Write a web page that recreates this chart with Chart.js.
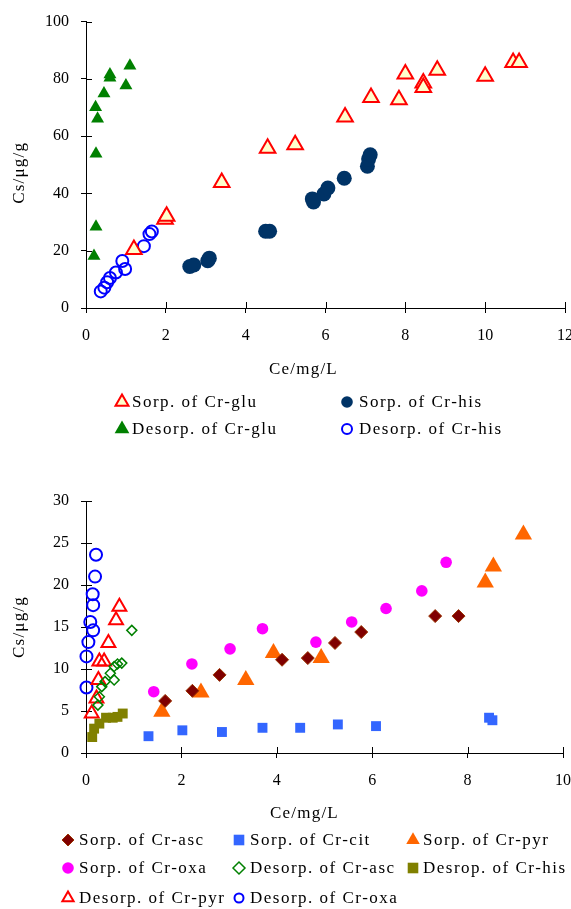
<!DOCTYPE html>
<html>
<head>
<meta charset="utf-8">
<script src="https://cdn.jsdelivr.net/npm/chart.js@4.4.0/dist/chart.umd.min.js"></script>
<style>
  html, body { margin: 0; padding: 0; background: #fff; overflow: hidden; }
  #top { position: absolute; left: 0; top: 0; width: 571px; height: 450px; }
  #bottom { position: absolute; left: 0; top: 460px; width: 571px; height: 449px; }
</style>
</head>
<body>
<div id="top"><canvas id="chart-top"></canvas></div>
<div id="bottom"><canvas id="chart-bottom"></canvas></div>
<script>
// ---- top chart data (Cr-glu / Cr-his) ----
const sorpGluX = [1.2, 1.98, 2.02, 3.4, 4.55, 5.24, 6.49, 7.14, 7.84, 8.0, 8.45, 8.45, 8.8, 10.0, 10.7, 10.85];
const sorpGluY = [20.4, 31.0, 32.0, 43.8, 55.8, 57.0, 66.7, 73.5, 72.7, 81.7, 78.6, 77.0, 83.0, 80.9, 85.7, 85.7];
const sorpHisX = [2.6, 2.7, 3.05, 3.09, 4.5, 4.6, 5.67, 5.7, 5.96, 6.06, 6.47, 7.05, 7.08, 7.12];
const sorpHisY = [14.5, 15.0, 16.5, 17.4, 26.8, 26.8, 38.1, 37.0, 39.8, 41.9, 45.3, 49.5, 52.0, 53.5];
const desGluX = [0.2, 0.25, 0.25, 0.29, 0.24, 0.45, 0.6, 0.6, 1.0, 1.1];
const desGluY = [18.2, 28.4, 53.9, 66.1, 70.1, 74.9, 80.4, 81.5, 77.7, 84.6];
const desHisX = [0.37, 0.46, 0.53, 0.6, 0.75, 0.91, 0.98, 1.45, 1.59, 1.65];
const desHisY = [5.8, 7.1, 9.0, 10.5, 12.4, 16.4, 13.6, 21.6, 25.8, 26.7];

// ---- bottom chart data ----
const sorpAscX = [1.66, 2.23, 2.8, 4.11, 4.65, 5.22, 5.77, 7.32, 7.81];
const sorpAscY = [6.2, 7.4, 9.3, 11.1, 11.3, 13.1, 14.4, 16.3, 16.3];
const sorpCitX = [1.31, 2.02, 2.85, 3.7, 4.49, 5.28, 6.08, 8.45, 8.52];
const sorpCitY = [2.0, 2.7, 2.5, 3.0, 3.0, 3.4, 3.2, 4.2, 3.9];
const sorpPyrX = [1.59, 2.41, 3.35, 3.93, 4.93, 8.37, 8.54, 9.17];
const sorpPyrY = [4.9, 7.2, 8.7, 11.9, 11.3, 20.3, 22.2, 26.0];
const sorpOxaX = [1.42, 2.22, 3.02, 3.7, 4.82, 5.57, 6.29, 7.04, 7.55];
const sorpOxaY = [7.3, 10.6, 12.4, 14.8, 13.2, 15.6, 17.2, 19.3, 22.7];
const desAscX = [0.25, 0.28, 0.33, 0.4, 0.59, 0.51, 0.59, 0.66, 0.75, 0.96];
const desAscY = [5.7, 6.7, 7.9, 8.5, 8.7, 9.5, 10.3, 10.6, 10.7, 14.6];
const desHis2X = [0.13, 0.17, 0.28, 0.42, 0.56, 0.66, 0.77];
const desHis2Y = [1.9, 2.9, 3.5, 4.2, 4.2, 4.3, 4.7];
const desPyrX = [0.12, 0.22, 0.26, 0.28, 0.38, 0.47, 0.63, 0.7];
const desPyrY = [4.7, 6.5, 8.7, 10.9, 10.9, 13.1, 15.8, 17.4];
const desOxaX = [0.21, 0.19, 0.14, 0.15, 0.09, 0.15, 0.05, 0.01, 0.01];
const desOxaY = [23.6, 21.0, 18.9, 17.6, 15.6, 14.6, 13.2, 11.5, 7.8];

// axis ranges
const topXMax = 12, topXStep = 2, topYMax = 100, topYStep = 20;
const botXMax = 10, botXStep = 2, botYMax = 30, botYStep = 5;

const FONT = '"Liberation Serif", "Times New Roman", serif';

function pts(xs, ys) {
    return xs.map((x, i) => ({ x: x, y: ys[i] }));
}

function series(label, xs, ys, style, bg, border, bw, r, legendR) {
    return {
        label: label,
        data: pts(xs, ys),
        pointStyle: style,
        backgroundColor: bg,
        borderColor: border,
        borderWidth: bw,
        pointRadius: r,
        pointHoverRadius: r,
        legendRadius: legendR,
        showLine: false,
        clip: false
    };
}

// scale titles get letter spacing and a small shift
const textTweaks = {
    id: 'textTweaks',
    beforeDraw(chart, args, opts) {
        Object.values(chart.scales).forEach(s => {
            if (s._tweaked) return;
            const orig = s.drawTitle;
            const shift = (opts.shift && opts.shift[s.id]) || [0, 0];
            s.drawTitle = function () {
                const c = this.ctx;
                c.save();
                c.letterSpacing = '1.2px';
                c.translate(shift[0], shift[1]);
                orig.call(this);
                c.restore();
            };
            s._tweaked = true;
        });
    }
};

// tick marks that cross the axis line
const crossTicks = {
    id: 'crossTicks',
    beforeDatasetsDraw(chart) {
        const ctx = chart.ctx;
        const x = chart.scales.x, y = chart.scales.y;
        ctx.save();
        ctx.strokeStyle = '#000';
        ctx.lineWidth = 1;
        ctx.beginPath();
        x.ticks.forEach(t => {
            const px = Math.round(x.getPixelForValue(t.value)) + 0.5;
            ctx.moveTo(px, x.top);
            ctx.lineTo(px, x.top - 6);
        });
        y.ticks.forEach(t => {
            const py = Math.round(y.getPixelForValue(t.value)) + 0.5;
            ctx.moveTo(y.right, py);
            ctx.lineTo(y.right + 6, py);
        });
        ctx.stroke();
        ctx.restore();
    }
};

// legend laid out in a grid, like the original
const gridLegend = {
    id: 'gridLegend',
    afterDraw(chart, args, opts) {
        const ctx = chart.ctx;
        ctx.save();
        ctx.font = '17px ' + FONT;
        ctx.letterSpacing = '1.5px';
        ctx.textBaseline = 'middle';
        ctx.textAlign = 'left';
        chart.data.datasets.forEach((ds, i) => {
            const cell = opts.cells[i];
            const y = opts.rows[cell[1]];
            ctx.fillStyle = ds.backgroundColor;
            ctx.strokeStyle = ds.borderColor;
            ctx.lineWidth = ds.borderWidth;
            Chart.helpers.drawPoint(ctx, {
                pointStyle: ds.pointStyle, rotation: 0,
                radius: ds.legendRadius, borderWidth: ds.borderWidth
            }, opts.markX[cell[0]], y);
            ctx.fillStyle = '#000';
            ctx.fillText(ds.label, opts.textX[cell[0]], y + 1);
        });
        ctx.restore();
    }
};

function xAxis(max, step, height) {
    return {
        type: 'linear', min: 0, max: max,
        ticks: { stepSize: step, color: '#000', font: { family: FONT, size: 16 }, padding: 13 },
        grid: { drawOnChartArea: false, color: '#000', tickLength: 5 },
        border: { color: '#000', width: 1 },
        title: { display: true, text: 'Ce/mg/L', color: '#000', font: { family: FONT, size: 17 }, padding: { top: 4, bottom: 4 } },
        afterFit: s => {
            s.height = height;
            s.paddingRight = 0;
        }
    };
}

function yAxis(max, step) {
    return {
        type: 'linear', min: 0, max: max,
        ticks: { stepSize: step, color: '#000', font: { family: FONT, size: 16 }, padding: 12 },
        grid: { drawOnChartArea: false, color: '#000', tickLength: 5 },
        border: { color: '#000', width: 1 },
        title: { display: true, text: 'Cs/μg/g', color: '#000', font: { family: FONT, size: 17 }, padding: { top: 9, bottom: 0 } },
        afterFit: s => { s.width = 86; }
    };
}

Chart.defaults.font.family = FONT;

new Chart(document.getElementById('chart-top'), {
    type: 'scatter',
    data: {
        datasets: [
            series('Sorp. of Cr-glu', sorpGluX, sorpGluY, 'triangle', '#FFFFCC', '#FF0000', 2, 9, 7.5),
            series('Sorp. of Cr-his', sorpHisX, sorpHisY, 'circle', '#003366', '#003366', 0, 7.5, 5.8),
            series('Desorp. of Cr-glu', desGluX, desGluY, 'triangle', '#008000', '#008000', 0, 7.5, 8.5),
            series('Desorp. of Cr-his', desHisX, desHisY, 'circle', 'rgba(0,0,0,0)', '#0000FF', 2, 6, 5)
        ]
    },
    options: {
        responsive: true,
        maintainAspectRatio: false,
        devicePixelRatio: 1,
        animation: false,
        events: [],
        layout: { autoPadding: false, padding: { top: 16, right: 6, bottom: 66, left: 0 } },
        scales: { x: xAxis(topXMax, topXStep, 76), y: yAxis(topYMax, topYStep) },
        plugins: {
            legend: { display: false },
            tooltip: { enabled: false },
            textTweaks: { shift: { x: [-22, 0], y: [0, 8] } },
            gridLegend: { cells: [[0, 0], [1, 0], [0, 1], [1, 1]], rows: [402, 429], markX: [122, 347], textX: [132, 359] }
        }
    },
    plugins: [textTweaks, crossTicks, gridLegend]
});

new Chart(document.getElementById('chart-bottom'), {
    type: 'scatter',
    data: {
        datasets: [
            series('Sorp. of Cr-asc', sorpAscX, sorpAscY, 'rectRot', '#800000', '#993300', 1, 6.5, 6),
            series('Sorp. of Cr-cit', sorpCitX, sorpCitY, 'rect', '#3366FF', '#3366FF', 0, 7, 7.5),
            series('Sorp. of Cr-pyr', sorpPyrX, sorpPyrY, 'triangle', '#FF6600', '#FF6600', 0, 10, 7.8),
            series('Sorp. of Cr-oxa', sorpOxaX, sorpOxaY, 'circle', '#FF00FF', '#FF00FF', 0, 5.8, 5.8),
            series('Desorp. of Cr-asc', desAscX, desAscY, 'rectRot', 'rgba(0,0,0,0)', '#008000', 1.5, 5, 6),
            series('Desrop. of Cr-his', desHis2X, desHis2Y, 'rect', '#808000', '#808000', 0, 7, 7.5),
            series('Desorp. of Cr-pyr', desPyrX, desPyrY, 'triangle', 'rgba(0,0,0,0)', '#FF0000', 2, 8, 6.5),
            series('Desorp. of Cr-oxa', desOxaX, desOxaY, 'circle', 'rgba(0,0,0,0)', '#0000FF', 2, 6, 4.5)
        ]
    },
    options: {
        responsive: true,
        maintainAspectRatio: false,
        devicePixelRatio: 1,
        animation: false,
        events: [],
        layout: { autoPadding: false, padding: { top: 41, right: 8, bottom: 81, left: 0 } },
        scales: { x: xAxis(botXMax, botXStep, 75), y: yAxis(botYMax, botYStep) },
        plugins: {
            legend: { display: false },
            tooltip: { enabled: false },
            textTweaks: { shift: { x: [-20, 0], y: [0, 0] } },
            gridLegend: {
                cells: [[0, 0], [1, 0], [2, 0], [0, 1], [1, 1], [2, 1], [0, 2], [1, 2]],
                rows: [380, 408, 438], markX: [68, 239, 413], textX: [79, 250, 423]
            }
        }
    },
    plugins: [textTweaks, crossTicks, gridLegend]
});
</script>
</body>
</html>
